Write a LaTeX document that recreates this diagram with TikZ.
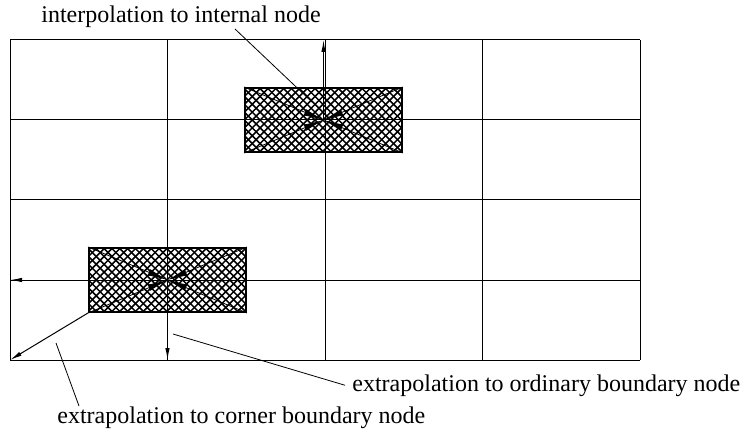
\documentclass[tikz,border=0pt]{standalone}
\usepackage{fontspec}
\setmainfont{Liberation Serif}
\usetikzlibrary{arrows.meta}
\tikzset{
  mesh/.style={line width=0.5pt},
  hatch/.style={line width=0.75pt},
  cell/.style={draw,line width=1pt,minimum width=78.5pt,minimum height=32pt,inner sep=0pt,
    path picture={\foreach \k in {0,...,29}{
        \draw[hatch] ([xshift=\k*3.925pt-32pt]path picture bounding box.north west) -- ++(32pt,-32pt);
        \draw[hatch] ([xshift=\k*3.925pt]path picture bounding box.north west) -- ++(-32pt,-32pt);}}},
  toward/.style={line width=0.4pt,-{Latex[length=10pt,width=3.4pt]}},
  outward/.style={line width=0.5pt,-{Latex[length=6pt,width=2.2pt]}},
  lbl/.style={font=\rmfamily\fontsize{12}{14}\selectfont,inner sep=0pt,anchor=base west},
}
\begin{document}
\begin{tikzpicture}[x=0.5pt,y=-0.5pt]
  \useasboundingbox (0,0) rectangle (742,432);
  % mesh
  \foreach \i in {0,...,4}\draw[mesh] (10+157.5*\i,40) -- (10+157.5*\i,360);
  \foreach \j in {0,...,4}\draw[mesh] (10,40+80*\j) -- (640,40+80*\j);
  % stencils
  \node[cell] (rin) at (323.5,120) {};
  \node[cell] (rbd) at (167.5,280) {};
  \foreach \c in {north west,north east,south west,south east}{
    \draw[toward] (rin.\c) -- (rin.center);
    \draw[toward] (rbd.\c) -- (rbd.center);
  }
  \coordinate (ntop) at (323.5,40);
  \coordinate (nleft) at (10,280);
  \coordinate (nbot) at (167.5,360);
  \coordinate (ncorner) at (10,360);
  \draw[outward] (rin.center) -- (ntop);
  \draw[outward] (rbd.center) -- (nleft);
  \draw[outward] (rbd.center) -- (nbot);
  \draw[outward] (rbd.south west) -- (ncorner);
  % labels
  \node[lbl] (interp) at (41,23) {interpolation to internal node};
  \node[lbl] (ordin) at (352,391) {extrapolation to ordinary boundary node};
  \node[lbl] (corner) at (57,423) {extrapolation to corner boundary node};
  \coordinate (p1) at (312,102);
  \coordinate (p2) at (173,334);
  \coordinate (p3) at (56,343);
  \draw (235,29) coordinate (q1) -- (p1);
  \draw (ordin.west) ++(-7,0) coordinate (q2) -- (p2);
  \draw (79,406) coordinate (q3) -- (p3);
\end{tikzpicture}
\end{document}
